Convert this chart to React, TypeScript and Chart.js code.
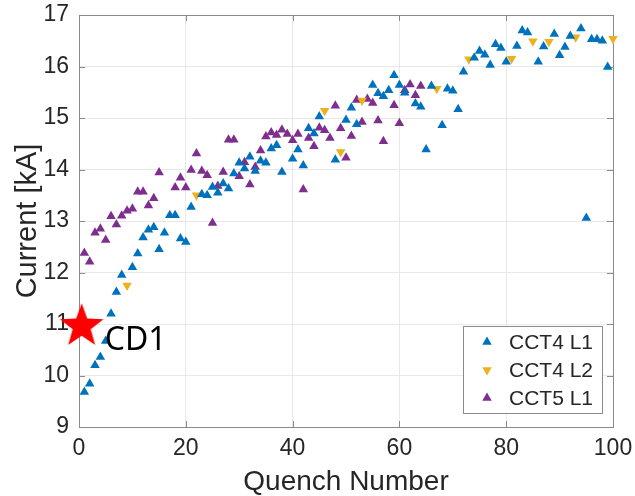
import { useEffect, useRef } from 'react';
import { Chart, registerables } from 'chart.js';

Chart.register(...registerables);

// CCT4 L1 quenches
const cct4L1Quench = [
  1, 2, 3, 4, 5, 6, 7, 8, 10, 11, 12, 13, 14, 15, 16, 17, 18, 19, 20, 21,
  23, 24, 25, 26, 27, 28, 29, 30, 31, 32, 33, 34, 35, 36, 37, 38, 40, 41, 42, 43,
  44, 45, 48, 50, 51, 52, 55, 56, 57, 58, 59, 60, 61, 63, 64, 65, 66, 68, 69, 70,
  71, 72, 74, 75, 76, 77, 78, 79, 80, 82, 83, 84, 86, 87, 89, 90, 91, 92, 94, 95,
  96, 97, 98, 99,
];
const cct4L1Current = [
  9.68, 9.84, 10.2, 10.36, 10.67, 11.2, 11.62, 11.95, 12.1, 12.37, 12.68, 12.83, 12.88, 12.45, 12.77, 13.11, 13.11, 12.66, 12.59, 13.27,
  13.52, 13.5, 13.66, 13.55, 13.73, 13.63, 13.92, 14.13, 14.02, 14.25, 13.97, 14.17, 14.13, 14.41, 14.47, 13.95, 14.21, 14.39, 14.08, 14.8,
  14.7, 15.03, 14.19, 14.96, 15.2, 14.88, 15.64, 15.48, 15.42, 15.54, 15.83, 15.64, 15.49, 15.28, 15.22, 14.39, 15.62, 14.86, 15.57, 15.53,
  15.17, 15.9, 16.17, 16.3, 16.23, 16.03, 16.43, 16.36, 16.09, 16.4, 16.7, 16.66, 16.09, 16.39, 16.63, 16.22, 16.38, 16.59, 16.74, 13.06,
  16.53, 16.53, 16.5, 15.99,
];

// CCT4 L2 quenches
const cct4L2Quench = [9, 22, 46, 49, 53, 67, 73, 81, 85, 88, 93, 100];
const cct4L2Current = [11.75, 13.5, 15.14, 14.34, 15.34, 15.57, 16.14, 16.15, 16.49, 16.48, 16.57, 16.54];

// CCT5 L1 quenches
const cct5L1Quench = [
  1, 2, 3, 4, 5, 6, 7, 8, 9, 10, 11, 12, 13, 14, 15, 18, 19, 20, 21, 22,
  23, 24, 25, 26, 27, 28, 29, 30, 31, 32, 33, 34, 35, 36, 37, 38, 39, 40, 41, 42,
  43, 44, 45, 46, 47, 48, 49, 50, 51, 52, 53, 54, 55, 56, 57, 59, 60, 61, 62, 63,
  64,
];
const cct5L1Current = [
  12.38, 12.21, 12.77, 12.85, 12.63, 13.09, 12.93, 13.1, 13.2, 13.24, 13.57, 13.57, 13.3, 13.44, 13.94, 13.65, 13.84, 13.65, 13.99, 14.31,
  13.97, 13.89, 12.96, 13.68, 13.95, 14.58, 14.58, 13.87, 14.14, 13.71, 14.05, 14.37, 14.64, 14.72, 14.67, 14.77, 14.69, 14.57, 14.69, 13.61,
  14.61, 14.45, 14.81, 14.76, 14.61, 15.24, 14.8, 14.23, 14.65, 15.35, 14.92, 15.37, 15.29, 14.95, 14.55, 15.25, 14.9, 15.54, 15.65, 15.44,
  15.62,
];

// CD1 reference quench
const cd1Quench = [0.5];
const cd1Current = [11.0];
const cd1Label = 'CD1';

const seriesNames = ['CCT4 L1', 'CCT4 L2', 'CCT5 L1'];
const seriesColors = ['#0072BD', '#EDB120', '#7E2F8E'];

const xTicks = [0, 20, 40, 60, 80, 100];
const yTicks = [9, 10, 11, 12, 13, 14, 15, 16, 17];

const xTitle = 'Quench Number';
const yTitle = 'Current [kA]';

const FONT = '"Liberation Sans", Arial, Helvetica, sans-serif';
const AXIS_COLOR = '#262626';
const FRAME_COLOR = '#8a8a8a';
const GRID_COLOR = '#e8e8e8';

const toPoints = (xs: number[], ys: number[]) => xs.map((x, i) => ({ x, y: ys[i] }));

function makeStar(outer: number, inner: number, color: string): HTMLCanvasElement {
  const size = Math.ceil(outer * 2 + 2);
  const c = document.createElement('canvas');
  c.width = size;
  c.height = size;
  const ctx = c.getContext('2d')!;
  const cx = size / 2;
  const cy = size / 2 + outer * 0.1;
  ctx.beginPath();
  for (let i = 0; i < 10; i++) {
    const r = i % 2 === 0 ? outer : inner;
    const a = -Math.PI / 2 + (i * Math.PI) / 5;
    const px = cx + r * Math.cos(a);
    const py = cy + r * Math.sin(a);
    if (i === 0) ctx.moveTo(px, py);
    else ctx.lineTo(px, py);
  }
  ctx.closePath();
  ctx.fillStyle = color;
  ctx.fill();
  return c;
}

function drawTriangle(ctx: CanvasRenderingContext2D, x: number, y: number, r: number, down: boolean, color: string) {
  ctx.save();
  ctx.translate(x, y);
  if (down) ctx.rotate(Math.PI);
  ctx.beginPath();
  for (let i = 0; i < 3; i++) {
    const a = (i * 2 * Math.PI) / 3;
    const px = Math.sin(a) * r;
    const py = -Math.cos(a) * r;
    if (i === 0) ctx.moveTo(px, py);
    else ctx.lineTo(px, py);
  }
  ctx.closePath();
  ctx.fillStyle = color;
  ctx.fill();
  ctx.restore();
}

// Axes box plus inward tick marks on all four sides
const framePlugin = {
  id: 'frame',
  beforeDatasetsDraw(chart: any) {
    const { ctx, chartArea: a, scales } = chart;
    const len = 6;
    ctx.save();
    ctx.strokeStyle = FRAME_COLOR;
    ctx.lineWidth = 1;
    ctx.beginPath();
    xTicks.forEach((v) => {
      const px = Math.round(scales.x.getPixelForValue(v)) + 0.5;
      ctx.moveTo(px, a.bottom);
      ctx.lineTo(px, a.bottom - len);
      ctx.moveTo(px, a.top);
      ctx.lineTo(px, a.top + len);
    });
    yTicks.forEach((v) => {
      const py = Math.round(scales.y.getPixelForValue(v)) + 0.5;
      ctx.moveTo(a.left, py);
      ctx.lineTo(a.left + len, py);
      ctx.moveTo(a.right, py);
      ctx.lineTo(a.right - len, py);
    });
    ctx.stroke();
    ctx.strokeRect(Math.round(a.left) + 0.5, Math.round(a.top) + 0.5, Math.round(a.right - a.left), Math.round(a.bottom - a.top));
    ctx.restore();
  },
};

// Text beside the CD1 star
const cd1LabelPlugin = {
  id: 'cd1Label',
  afterDatasetsDraw(chart: any) {
    const meta = chart.getDatasetMeta(3);
    const pt = meta.data[0];
    if (!pt) return;
    const { ctx } = chart;
    ctx.save();
    ctx.fillStyle = '#000000';
    ctx.font = '32px "Noto Sans", sans-serif';
    ctx.textAlign = 'left';
    ctx.textBaseline = 'middle';
    ctx.fillText(cd1Label, pt.x + 23, pt.y + 17);
    ctx.restore();
  },
};

// Boxed legend in the lower right corner of the plot
const legendPlugin = {
  id: 'boxLegend',
  afterDraw(chart: any) {
    const { ctx, chartArea: a } = chart;
    const w = 139;
    const h = 87;
    const x0 = Math.round(a.right - 11 - w);
    const y0 = Math.round(a.bottom - 14 - h);
    ctx.save();
    ctx.fillStyle = '#ffffff';
    ctx.fillRect(x0, y0, w, h);
    ctx.strokeStyle = FRAME_COLOR;
    ctx.lineWidth = 1;
    ctx.strokeRect(x0 + 0.5, y0 + 0.5, w, h);
    ctx.font = `21px ${FONT}`;
    ctx.textBaseline = 'middle';
    ctx.textAlign = 'left';
    seriesNames.forEach((name, i) => {
      const cy = y0 + 16 + i * 28;
      drawTriangle(ctx, x0 + 24, cy, 5.5, i === 1, seriesColors[i]);
      ctx.fillStyle = AXIS_COLOR;
      ctx.fillText(name, x0 + 46, cy + 1);
    });
    ctx.restore();
  },
};

// Fixed axis band sizes, and no extra room reserved for overhanging end labels
const fixBand = (size: number) => (s: any) => {
  if (s.isHorizontal()) s.height = size;
  else s.width = size;
  s.paddingTop = 0;
  s.paddingBottom = 0;
  s.paddingLeft = 0;
  s.paddingRight = 0;
};

export default function App() {
  const canvasRef = useRef<HTMLCanvasElement | null>(null);

  useEffect(() => {
    const canvas = canvasRef.current;
    if (!canvas) return;
    const star = makeStar(23, 9.5, '#FF0000');
    const tri = { pointStyle: 'triangle', pointRadius: 5.5, pointBorderWidth: 0, clip: false as const, showLine: false };
    const chart = new Chart(canvas, {
      type: 'scatter',
      data: {
        datasets: [
          { label: seriesNames[0], data: toPoints(cct4L1Quench, cct4L1Current), backgroundColor: seriesColors[0], borderColor: seriesColors[0], ...tri },
          { label: seriesNames[1], data: toPoints(cct4L2Quench, cct4L2Current), backgroundColor: seriesColors[1], borderColor: seriesColors[1], pointRotation: 180, ...tri },
          { label: seriesNames[2], data: toPoints(cct5L1Quench, cct5L1Current), backgroundColor: seriesColors[2], borderColor: seriesColors[2], ...tri },
          { label: cd1Label, data: toPoints(cd1Quench, cd1Current), pointStyle: star, pointRadius: 23, clip: false as const, showLine: false },
        ] as any,
      },
      options: {
        responsive: false,
        animation: false,
        events: [],
        layout: { autoPadding: false, padding: { top: 15, right: 22, left: 0, bottom: 0 } },
        plugins: { legend: { display: false }, tooltip: { enabled: false } },
        scales: {
          x: {
            type: 'linear',
            min: 0,
            max: 100,
            afterFit: fixBand(69),
            afterBuildTicks: (s: any) => { s.ticks = xTicks.map((v) => ({ value: v })); },
            grid: { color: GRID_COLOR, drawTicks: false, drawOnChartArea: true },
            border: { display: false },
            ticks: { color: AXIS_COLOR, font: { family: FONT, size: 23 }, padding: 8, maxRotation: 0 },
            title: { display: true, text: xTitle, color: AXIS_COLOR, font: { family: FONT, size: 28, lineHeight: 1 }, padding: { top: 0, bottom: 0 } },
          },
          y: {
            type: 'linear',
            min: 9,
            max: 17,
            afterFit: fixBand(79),
            afterBuildTicks: (s: any) => { s.ticks = yTicks.map((v) => ({ value: v })); },
            grid: { color: GRID_COLOR, drawTicks: false },
            border: { display: false },
            ticks: { color: AXIS_COLOR, font: { family: FONT, size: 23 }, padding: 10 },
            title: { display: true, text: yTitle, color: AXIS_COLOR, font: { family: FONT, size: 29, lineHeight: 1 }, padding: { top: 13, bottom: 0 } },
          },
        },
      },
      plugins: [framePlugin, cd1LabelPlugin, legendPlugin],
    });
    return () => chart.destroy();
  }, []);

  return (
    <div style={{ position: 'fixed', left: 0, top: 0, width: 635, height: 496, background: '#ffffff' }}>
      <canvas ref={canvasRef} width={635} height={496} style={{ display: 'block' }} />
    </div>
  );
}
